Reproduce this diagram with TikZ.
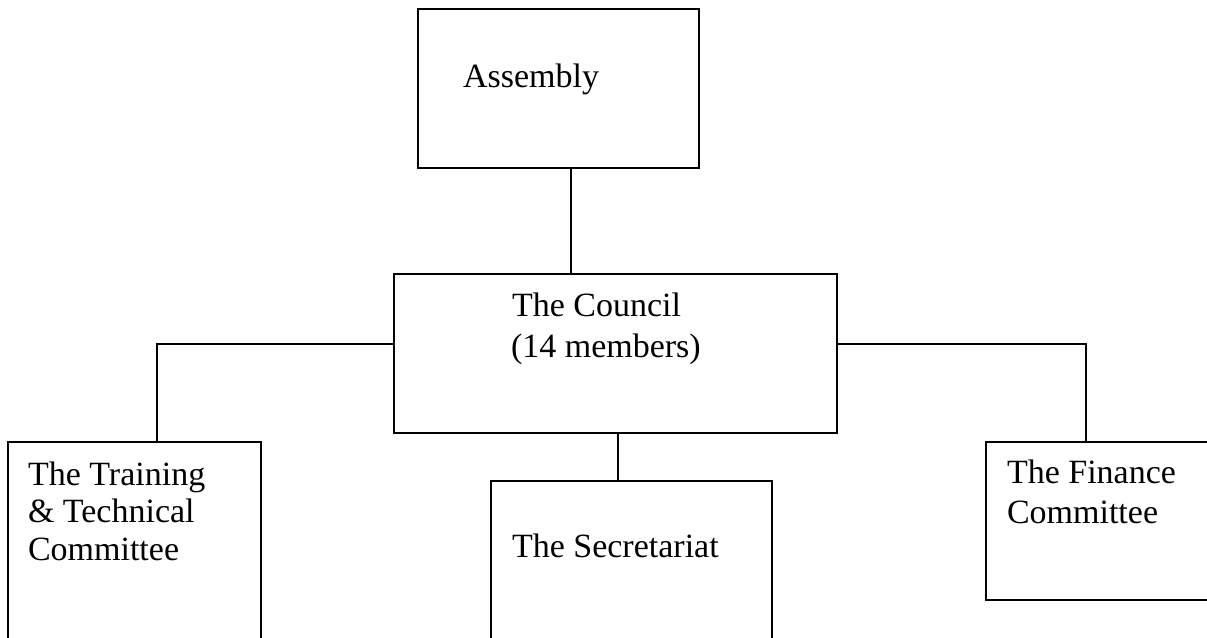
\documentclass[tikz,border=0pt]{standalone}
\usepackage{fontspec}
\setmainfont{Liberation Serif}
\begin{document}
\begin{tikzpicture}[x=1pt,y=-1pt,
  box/.style={draw=black,line width=1.7pt,outer sep=0pt,inner sep=0pt,anchor=north west},
  lbl/.style={anchor=base west,inner sep=0pt,outer sep=0pt,font=\fontsize{34}{38}\selectfont,text=black},
  conn/.style={draw=black,line width=1.7pt,line cap=rect}]
\useasboundingbox (0,0) rectangle (1207,637);
\clip (0,0) rectangle (1207,637);
% boxes
\node[box,minimum width=281pt,minimum height=159pt] (asm) at (418,9) {};
\node[box,minimum width=443pt,minimum height=159pt] (council) at (394,274) {};
\node[box,minimum width=253pt,minimum height=230pt] (train) at (8,442) {};
\node[box,minimum width=281pt,minimum height=190pt] (sec) at (491,481) {};
\node[box,minimum width=235pt,minimum height=158pt] (fin) at (986,442) {};
% texts
\node[lbl] (asmT) at (463,87) {Assembly};
\node[lbl] (councilA) at (512,316) {The Council};
\node[lbl] (councilB) at (511,357) {(14 members)};
\node[lbl] (trainA) at (28,485) {The Training};
\node[lbl] (trainB) at (28,522.5) {\& Technical};
\node[lbl] (trainC) at (28,560) {Committee};
\node[lbl] (secT) at (512,557) {The Secretariat};
\node[lbl] (finA) at (1007,483) {The Finance};
\node[lbl] (finB) at (1007,523) {Committee};
% junctions
\coordinate (ja) at (571,0);
\coordinate (js) at (618,0);
\coordinate (jl) at (157,344);
\coordinate (jr) at (1086,344);
% connectors
\draw[conn] (asm.south -| ja) -- (council.north -| ja);
\draw[conn] (council.south -| js) -- (sec.north -| js);
\draw[conn] (council.west |- jl) -- (jl) -- (train.north -| jl);
\draw[conn] (council.east |- jr) -- (jr) -- (fin.north -| jr);
\end{tikzpicture}
\end{document}
